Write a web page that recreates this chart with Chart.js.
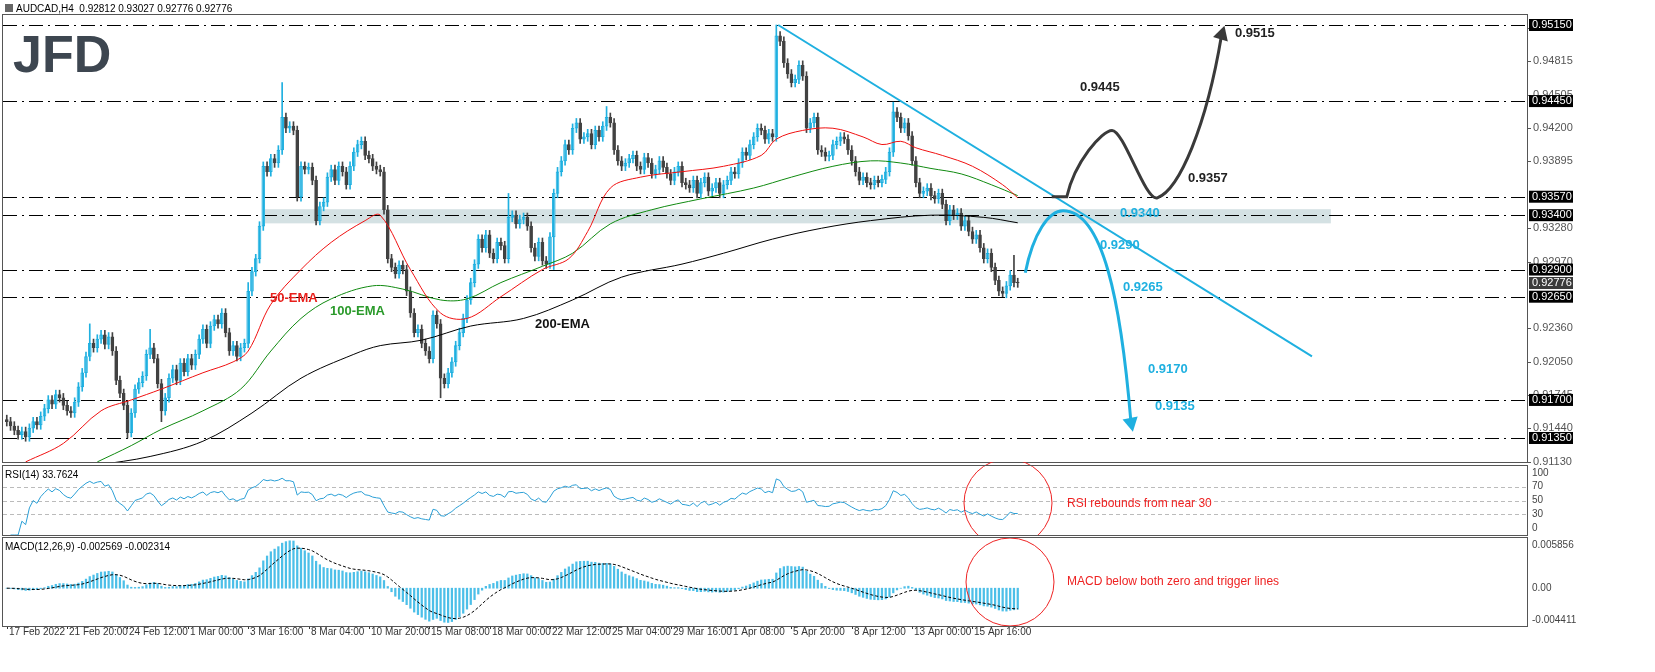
<!DOCTYPE html>
<html>
<head>
<meta charset="utf-8">
<script src="https://cdn.jsdelivr.net/npm/chart.js@4"></script>
<style>
  body { margin: 0; background: #fff; width: 1655px; height: 672px; overflow: hidden; position: relative; }
  canvas { position: absolute; left: 0; }
</style>
</head>
<body>
<canvas id="price" width="1655" height="470" style="top:0"></canvas>
<canvas id="rsi" width="1655" height="74" style="top:462px"></canvas>
<canvas id="macd" width="1655" height="136" style="top:536px"></canvas>
<script>
// ---- data (H4 closes, 4-digit pips: 9150 = 0.9150) ----
const closePips = [
  9150,9146,9142,9138,9141,9136,9144,9150,9147,9155,
  9162,9170,9166,9175,9172,9165,9160,9158,9168,9182,
  9195,9210,9222,9218,9226,9230,9221,9228,9215,9188,
  9176,9165,9140,9158,9180,9186,9192,9212,9218,9208,
  9185,9160,9172,9190,9198,9188,9204,9196,9208,9202,
  9212,9226,9235,9222,9238,9244,9240,9250,9232,9215,
  9220,9210,9218,9222,9270,9288,9300,9330,9385,9380,
  9392,9388,9400,9430,9420,9422,9418,9357,9385,9382,
  9384,9372,9335,9348,9352,9375,9382,9372,9385,9380,
  9368,9385,9398,9405,9408,9395,9392,9385,9382,9380,
  9345,9300,9292,9286,9294,9290,9270,9250,9232,9235,
  9222,9215,9208,9248,9240,9190,9185,9195,9205,9220,
  9232,9245,9262,9278,9295,9318,9310,9322,9305,9300,
  9315,9312,9300,9338,9340,9332,9336,9338,9330,9310,
  9302,9315,9298,9295,9320,9360,9380,9390,9405,9400,
  9420,9425,9410,9412,9415,9405,9418,9412,9422,9430,
  9425,9400,9390,9385,9388,9392,9395,9385,9382,9393,
  9388,9378,9382,9390,9384,9378,9372,9380,9385,9370,
  9368,9365,9372,9360,9370,9375,9362,9365,9370,9360,
  9368,9372,9380,9378,9388,9398,9395,9405,9412,9420,
  9418,9410,9415,9412,9505,9500,9480,9470,9462,9465,
  9478,9468,9420,9425,9430,9400,9398,9394,9395,9405,
  9408,9412,9410,9400,9390,9380,9372,9375,9370,9368,
  9372,9370,9373,9380,9398,9435,9430,9420,9425,9413,
  9390,9370,9360,9362,9365,9358,9355,9360,9350,9335,
  9345,9340,9342,9330,9335,9325,9318,9322,9310,9300,
  9305,9292,9280,9270,9268,9275,9285,9278,9277.6
];
const firstOpenPips = 9152;
// notable wick extremes [index, pips]
const highWicks = [[22,9240],[38,9235],[64,9278],[73,9462],[133,9360],[159,9440],[204,9515],[235,9444],[267,9303]];
const lowWicks = [[32,9135],[41,9150],[115,9172],[145,9290],[264,9265]];
const defaultWickPips = 4;

// EMA lines [bar index, price]
const ema50 = [[5,0.9113],[15,0.9130],[25,0.9160],[33,0.9170],[41,0.9180],[52,0.9195],[60,0.9205],[64,0.9215],[70,0.9258],[78,0.9290],[86,0.9315],[95,0.9335],[99,0.9340],[107,0.9290],[115,0.9250],[122,0.9245],[131,0.9265],[142,0.9290],[149,0.9300],[154,0.9325],[160,0.9365],[168,0.9375],[179,0.9380],[190,0.9385],[200,0.9395],[204,0.9410],[211,0.9418],[219,0.9420],[227,0.9412],[232,0.9405],[237,0.9408],[241,0.9402],[248,0.9395],[256,0.9385],[264,0.9368],[268,0.9356]];
const ema100 = [[24,0.9113],[33,0.9128],[41,0.9143],[52,0.9160],[62,0.9180],[70,0.9215],[78,0.9245],[86,0.9263],[97,0.9275],[105,0.9272],[115,0.9262],[122,0.9263],[131,0.9278],[142,0.9293],[150,0.9305],[160,0.9332],[171,0.9345],[184,0.9355],[198,0.9365],[208,0.9375],[219,0.9385],[229,0.9390],[237,0.9388],[245,0.9383],[253,0.9378],[261,0.9368],[268,0.9358]];
const ema200 = [[24,0.9110],[38,0.9118],[52,0.9132],[65,0.9158],[78,0.9190],[92,0.9212],[99,0.9220],[110,0.9225],[123,0.9238],[137,0.9245],[150,0.9262],[163,0.9283],[179,0.9295],[190,0.9305],[203,0.9318],[216,0.9328],[229,0.9335],[245,0.9340],[259,0.9338],[268,0.9333]];

const levels = [0.9515, 0.9445, 0.9357, 0.9340, 0.9290, 0.9265, 0.9170, 0.9135];
const levelNames = ['0.95150','0.94450','0.93570','0.93400','0.92900','0.92650','0.91700','0.91350'];
const priceTicks = [0.95120,0.94815,0.94505,0.94200,0.93895,0.93280,0.92970,0.92360,0.92050,0.91745,0.91440,0.91130];
const lastPrice = 0.92776;
const dateLabels = ['17 Feb 2022','21 Feb 20:00','24 Feb 12:00','1 Mar 00:00','3 Mar 16:00','8 Mar 04:00','10 Mar 20:00','15 Mar 08:00','18 Mar 00:00','22 Mar 12:00','25 Mar 04:00','29 Mar 16:00','1 Apr 08:00','5 Apr 20:00','8 Apr 12:00','13 Apr 00:00','15 Apr 16:00'];
const barsPerLabel = 16;

// ---- derived candles ----
const closes = closePips.map(v => v / 10000);
const opens = closes.map((c, i) => i === 0 ? firstOpenPips / 10000 : closes[i - 1]);
const highs = closes.map((c, i) => Math.max(c, opens[i]) + defaultWickPips / 10000);
const lows = closes.map((c, i) => Math.min(c, opens[i]) - defaultWickPips / 10000);
highWicks.forEach(([i, p]) => highs[i] = p / 10000);
lowWicks.forEach(([i, p]) => lows[i] = p / 10000);

// indicators from closes
function ema(arr, n) {
  const k = 2 / (n + 1); let out = []; let prev = arr[0];
  arr.forEach(v => { prev = v * k + prev * (1 - k); out.push(prev); });
  return out;
}
function rsi(arr, n) {
  let out = [null]; let ag = 0, al = 0;
  for (let i = 1; i < arr.length; i++) {
    const d = arr[i] - arr[i - 1];
    const g = Math.max(d, 0), l = Math.max(-d, 0);
    if (i <= n) { ag += g / n; al += l / n; } else { ag = (ag * (n - 1) + g) / n; al = (al * (n - 1) + l) / n; }
    out.push(al === 0 ? 100 : 100 - 100 / (1 + ag / al));
  }
  return out;
}
const e12 = ema(closes, 12), e26 = ema(closes, 26);
const macdLine = closes.map((c, i) => e12[i] - e26[i]);
const signalLine = ema(macdLine, 9);
const rsiLine = rsi(closes, 14);

const CYAN = '#1fb0e0';
const BEAR = '#424242';
const FONT = '"Liberation Sans", Arial, sans-serif';
const X_MIN = -1, X_MAX = 403;

const baseOpts = (pad, y) => ({
  responsive: false, animation: false, devicePixelRatio: 1,
  layout: { padding: Object.assign({ left: 3, right: 128 }, pad) },
  plugins: { legend: { display: false }, tooltip: { enabled: false } },
  scales: { x: { type: 'linear', min: X_MIN, max: X_MAX, offset: false, display: false }, y: y }
});

function frame(chart, ctx) {
  const a = chart.chartArea;
  ctx.save(); ctx.strokeStyle = '#555'; ctx.lineWidth = 1;
  ctx.strokeRect(a.left - 0.5, a.top - 0.5, a.right - a.left + 1, a.bottom - a.top + 1);
  ctx.restore();
}
function dashLine(ctx, x1, x2, y, pattern, color) {
  ctx.save(); ctx.setLineDash(pattern); ctx.strokeStyle = color; ctx.lineWidth = 1;
  ctx.beginPath(); ctx.moveTo(x1, Math.round(y) + 0.5); ctx.lineTo(x2, Math.round(y) + 0.5); ctx.stroke(); ctx.restore();
}
function arrowHead(ctx, x, y, ang, size, color) {
  ctx.save(); ctx.fillStyle = color; ctx.translate(x, y); ctx.rotate(ang);
  ctx.beginPath(); ctx.moveTo(0, 0); ctx.lineTo(-size, -size * 0.55); ctx.lineTo(-size, size * 0.55); ctx.closePath(); ctx.fill(); ctx.restore();
}

// ---- price panel ----
const pricePlugin = {
  id: 'priceDeco',
  beforeDatasetsDraw(chart) {
    const { ctx, chartArea: a, scales: { x, y } } = chart;
    ctx.save();
    ctx.fillStyle = 'rgba(170,195,200,0.5)';
    const b1 = y.getPixelForValue(0.93455), b2 = y.getPixelForValue(0.93325);
    ctx.fillRect(x.getPixelForValue(68), b1, x.getPixelForValue(351) - x.getPixelForValue(68), b2 - b1);
    ctx.restore();
    levels.forEach(l => dashLine(ctx, a.left, a.right, y.getPixelForValue(l), [14, 5, 2, 5], '#000'));
  },
  afterDatasetsDraw(chart) {
    const { ctx, chartArea: a, scales: { x, y } } = chart;
    const P = (i, p) => [x.getPixelForValue(i), y.getPixelForValue(p)];
    // trend line
    ctx.save(); ctx.strokeStyle = CYAN; ctx.lineWidth = 2;
    let [tx1, ty1] = P(204.5, 0.9515), [tx2, ty2] = P(346, 0.9210);
    ctx.beginPath(); ctx.moveTo(tx1, ty1); ctx.lineTo(tx2, ty2); ctx.stroke();
    // black scenario arrow
    ctx.strokeStyle = '#3a3a3a'; ctx.lineWidth = 3;
    let s = P(277, 0.9357), s2 = P(281, 0.9357), h = P(293, 0.9418), v = P(305, 0.9356), e = P(322, 0.9505);
    ctx.beginPath(); ctx.moveTo(...s); ctx.lineTo(...s2);
    ctx.bezierCurveTo(s2[0] + 8, s2[1] - 35, h[0] - 10, h[1], h[0], h[1]);
    ctx.bezierCurveTo(h[0] + 12, h[1], v[0] - 12, v[1] + 4, v[0], v[1]);
    ctx.bezierCurveTo(v[0] + 22, v[1] - 8, e[0] - 15, e[1] + 90, e[0], e[1]);
    ctx.stroke();
    arrowHead(ctx, e[0] + 3, e[1] - 10, -1.28, 14, '#3a3a3a');
    // blue scenario arrow
    ctx.strokeStyle = CYAN;
    let b0 = P(270, 0.9287), bp = P(280, 0.9344), be = P(298, 0.9150);
    ctx.beginPath(); ctx.moveTo(...b0);
    ctx.bezierCurveTo(b0[0] + 8, b0[1] - 40, bp[0] - 14, bp[1], bp[0], bp[1]);
    ctx.bezierCurveTo(bp[0] + 40, bp[1], be[0] - 10, be[1] - 120, be[0], be[1]);
    ctx.stroke();
    arrowHead(ctx, be[0] + 2, be[1] + 10, 1.37, 14, CYAN);
    ctx.restore();

    // texts
    ctx.save(); ctx.font = 'bold 13px ' + FONT; ctx.textBaseline = 'middle';
    const txt = (t, px, py, c) => { ctx.fillStyle = c; ctx.fillText(t, px, py); };
    txt('0.9515', 1235, 33, '#222'); txt('0.9445', 1080, 87, '#222'); txt('0.9357', 1188, 178, '#222');
    txt('0.9340', 1120, 213, CYAN); txt('0.9290', 1100, 245, CYAN); txt('0.9265', 1123, 287, CYAN);
    txt('0.9170', 1148, 369, CYAN); txt('0.9135', 1155, 406, CYAN);
    txt('50-EMA', 270, 298, '#e8201c'); txt('100-EMA', 330, 311, '#2a9a2a'); txt('200-EMA', 535, 324, '#111');
    // logo + title
    ctx.font = 'bold 52px ' + FONT; ctx.fillStyle = '#3d4650'; ctx.textBaseline = 'alphabetic';
    ctx.fillText('JFD', 13, 72);
    ctx.font = '10px ' + FONT; ctx.fillStyle = '#000';
    ctx.fillText('AUDCAD,H4  0.92812 0.93027 0.92776 0.92776', 16, 12);
    ctx.fillStyle = '#666'; ctx.fillRect(5, 4, 8, 8);
    // right axis
    ctx.font = '11px ' + FONT; ctx.textBaseline = 'middle';
    priceTicks.forEach(t => {
      const py = y.getPixelForValue(t);
      ctx.fillStyle = '#555'; ctx.fillRect(a.right, Math.round(py), 4, 1);
      ctx.fillText(t.toFixed(5), a.right + 6, py);
    });
    levels.forEach((l, i) => {
      const py = y.getPixelForValue(l);
      ctx.fillStyle = '#000'; ctx.fillRect(a.right + 2, py - 6, 44, 12);
      ctx.fillStyle = '#fff'; ctx.fillText(levelNames[i], a.right + 5, py);
    });
    const lp = y.getPixelForValue(lastPrice);
    ctx.fillStyle = '#3b3b3b'; ctx.fillRect(a.right + 2, lp - 6, 44, 12);
    ctx.fillStyle = '#fff'; ctx.fillText(lastPrice.toFixed(5), a.right + 5, lp);
    ctx.restore();
    frame(chart, ctx);
  }
};

const bull = closes.map((c, i) => c >= opens[i]);
new Chart(document.getElementById('price'), {
  type: 'bar',
  data: {
    datasets: [
      { type: 'line', data: ema50.map(([i, v]) => ({ x: i, y: v })), borderColor: '#f01010', borderWidth: 1, pointRadius: 0, tension: 0.35 },
      { type: 'line', data: ema100.map(([i, v]) => ({ x: i, y: v })), borderColor: '#108a10', borderWidth: 1, pointRadius: 0, tension: 0.35 },
      { type: 'line', data: ema200.map(([i, v]) => ({ x: i, y: v })), borderColor: '#000', borderWidth: 1, pointRadius: 0, tension: 0.35 },
      { data: closes.map((c, i) => ({ x: i, y: [lows[i], highs[i]] })), backgroundColor: bull.map(b => b ? CYAN : BEAR), barThickness: 1, grouped: false },
      { data: closes.map((c, i) => ({ x: i, y: [opens[i], c] })), backgroundColor: bull.map(b => b ? '#fff' : BEAR),
        borderColor: bull.map(b => b ? CYAN : BEAR), borderWidth: 1, borderSkipped: false, barThickness: 3, minBarLength: 1, grouped: false }
    ]
  },
  options: baseOpts({ top: 15, bottom: 8 }, { min: 0.91129, max: 0.95242, display: false }),
  plugins: [pricePlugin]
});

// ---- RSI panel ----
new Chart(document.getElementById('rsi'), {
  type: 'line',
  data: { datasets: [{ data: rsiLine.map((v, i) => ({ x: i, y: v })), borderColor: '#2a9fd6', borderWidth: 1, pointRadius: 0 }] },
  options: baseOpts({ top: 4, bottom: 1 }, { min: 0, max: 100, display: false }),
  plugins: [{
    id: 'rsiDeco',
    beforeDatasetsDraw(chart) {
      const { ctx, chartArea: a, scales: { y } } = chart;
      [30, 50, 70].forEach(l => dashLine(ctx, a.left, a.right, y.getPixelForValue(l), [4, 3], '#bbb'));
    },
    afterDatasetsDraw(chart) {
      const { ctx, chartArea: a, scales: { y } } = chart;
      ctx.save(); ctx.font = '10px ' + FONT; ctx.fillStyle = '#000'; ctx.textBaseline = 'middle';
      ctx.fillText('RSI(14) 33.7624', 5, a.top + 9);
      ctx.fillStyle = '#444';
      [[100, 7], [70, 0], [50, 0], [30, 0], [0, -7]].forEach(([t, off]) => ctx.fillText(String(t), a.right + 5, y.getPixelForValue(t) + off));
      ctx.strokeStyle = '#e22'; ctx.lineWidth = 1;
      ctx.beginPath(); ctx.arc(1008, 41, 44, 0, Math.PI * 2); ctx.stroke();
      ctx.font = '12px ' + FONT; ctx.fillStyle = '#e22';
      ctx.fillText('RSI rebounds from near 30', 1067, 42);
      ctx.restore();
      frame(chart, ctx);
    }
  }]
});

// ---- MACD panel ----
new Chart(document.getElementById('macd'), {
  type: 'bar',
  data: {
    datasets: [
      { type: 'line', data: signalLine.map((v, i) => ({ x: i, y: v })), borderColor: '#000', borderWidth: 1, borderDash: [3, 2], pointRadius: 0 },
      { data: macdLine.map((v, i) => ({ x: i, y: v })), backgroundColor: '#4cbfe8', barThickness: 1.6 }
    ]
  },
  options: baseOpts({ top: 2, bottom: 46 }, { min: -0.004411, max: 0.005856, display: false }),
  plugins: [{
    id: 'macdDeco',
    afterDatasetsDraw(chart) {
      const { ctx, chartArea: a, scales: { x, y } } = chart;
      ctx.save(); ctx.font = '10px ' + FONT; ctx.fillStyle = '#000'; ctx.textBaseline = 'middle';
      ctx.fillText('MACD(12,26,9) -0.002569 -0.002314', 5, a.top + 9);
      ctx.fillStyle = '#444';
      ctx.fillText('0.005856', a.right + 5, a.top + 7);
      ctx.fillText('0.00', a.right + 5, y.getPixelForValue(0));
      ctx.fillText('-0.004411', a.right + 5, a.bottom - 6);
      ctx.strokeStyle = '#e22'; ctx.lineWidth = 1;
      ctx.beginPath(); ctx.arc(1010, 46, 44, 0, Math.PI * 2); ctx.stroke();
      ctx.font = '12px ' + FONT; ctx.fillStyle = '#e22';
      ctx.fillText('MACD below both zero and trigger lines', 1067, 46);
      // time axis
      ctx.font = '10px ' + FONT; ctx.fillStyle = '#333'; ctx.textBaseline = 'top';
      dateLabels.forEach((t, k) => {
        const px = Math.round(x.getPixelForValue(k * barsPerLabel));
        ctx.fillRect(px, a.bottom, 1, 3);
        ctx.fillText(t, px + 2, a.bottom + 1);
      });
      ctx.restore();
      frame(chart, ctx);
    }
  }]
});
</script>
</body>
</html>
